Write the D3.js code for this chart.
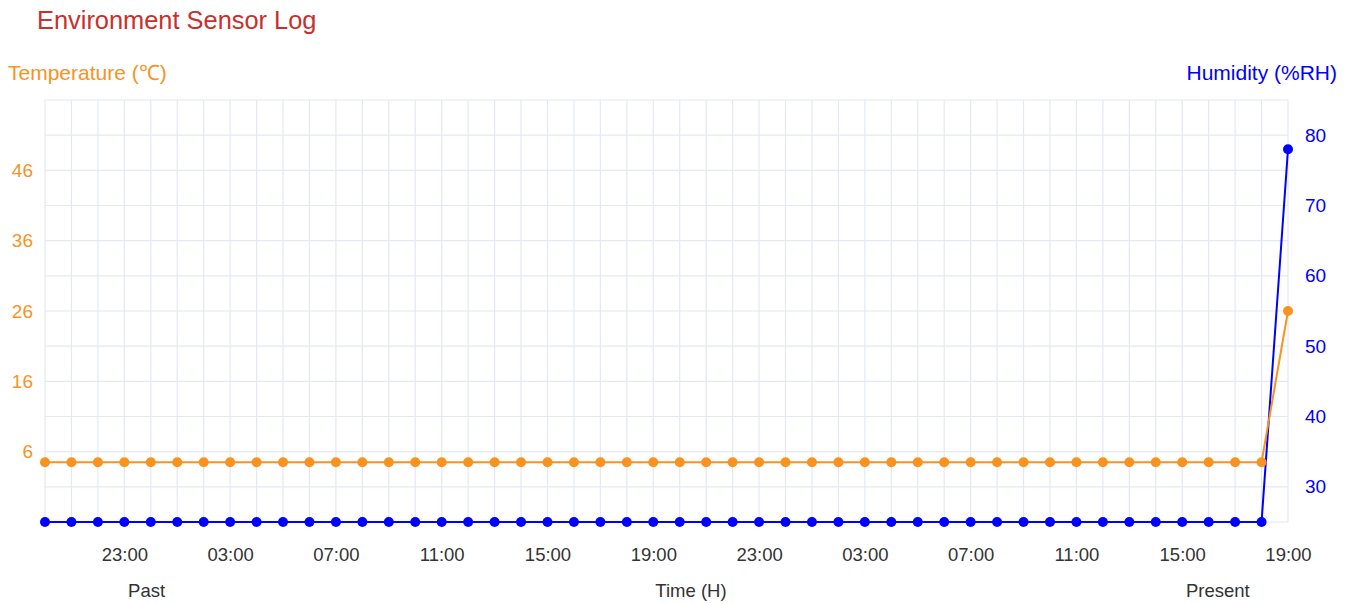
<!DOCTYPE html>
<html>
<head>
<meta charset="utf-8">
<script src="https://cdn.jsdelivr.net/npm/d3@7"></script>
<style>
  html, body { margin: 0; padding: 0; background: #ffffff; }
  svg { display: block; font-family: "Liberation Sans", Arial, sans-serif; }
</style>
</head>
<body>
<svg id="chart" width="1354" height="604"></svg>
<script>
// Hourly readings, oldest first
const hours = [
  "20:00","21:00","22:00","23:00","00:00","01:00","02:00","03:00",
  "04:00","05:00","06:00","07:00","08:00","09:00","10:00","11:00",
  "12:00","13:00","14:00","15:00","16:00","17:00","18:00","19:00",
  "20:00","21:00","22:00","23:00","00:00","01:00","02:00","03:00",
  "04:00","05:00","06:00","07:00","08:00","09:00","10:00","11:00",
  "12:00","13:00","14:00","15:00","16:00","17:00","18:00","19:00"
];
const temperature = [
  4.5,4.5,4.5,4.5,4.5,4.5,4.5,4.5,4.5,4.5,4.5,4.5,
  4.5,4.5,4.5,4.5,4.5,4.5,4.5,4.5,4.5,4.5,4.5,4.5,
  4.5,4.5,4.5,4.5,4.5,4.5,4.5,4.5,4.5,4.5,4.5,4.5,
  4.5,4.5,4.5,4.5,4.5,4.5,4.5,4.5,4.5,4.5,4.5,26
];
const humidity = [
  25,25,25,25,25,25,25,25,25,25,25,25,
  25,25,25,25,25,25,25,25,25,25,25,25,
  25,25,25,25,25,25,25,25,25,25,25,25,
  25,25,25,25,25,25,25,25,25,25,25,78
];
const tempTicks = [-4, 1, 6, 11, 16, 21, 26, 31, 36, 41, 46, 51, 56];
const tempLabels = [6, 16, 26, 36, 46];
const humTicks = [25, 30, 35, 40, 45, 50, 55, 60, 65, 70, 75, 80, 85];
const humLabels = [30, 40, 50, 60, 70, 80];
const xLabelHours = ["23:00", "03:00", "07:00", "11:00", "15:00", "19:00"];
const captions = ["Past", "Time (H)", "Present"];

const ORANGE = "#f7931e";
const BLUE = "#0000ff";
const GRID = "#e3e8f3";
const FONT = "Liberation Sans, Arial, sans-serif";

const svg = d3.select("#chart");
const plot = { left: 45, right: 1288, top: 100, bottom: 522 };

const idx = d3.range(hours.length);
const x = d3.scalePoint().domain(idx).range([plot.left, plot.right]).padding(0);
const yT = d3.scaleLinear().domain([-4, 56]).range([plot.bottom, plot.top]);
const yH = d3.scaleLinear().domain([25, 85]).range([plot.bottom, plot.top]);

// Grid: one vertical line per hour, one horizontal line per 5 units
const grid = svg.append("g").attr("stroke", GRID).attr("stroke-width", 1.2).attr("fill", "none");
grid.selectAll("line.v").data(idx).join("line")
  .attr("x1", d => x(d)).attr("x2", d => x(d))
  .attr("y1", plot.top).attr("y2", plot.bottom);
grid.selectAll("line.h").data(humTicks).join("line")
  .attr("x1", plot.left).attr("x2", plot.right)
  .attr("y1", d => yH(d)).attr("y2", d => yH(d));

// Left axis (temperature)
const leftAxis = d3.axisLeft(yT).tickValues(tempLabels).tickSize(0).tickPadding(12);
const gL = svg.append("g").attr("transform", `translate(${plot.left},0)`).call(leftAxis);
gL.select(".domain").remove();
gL.selectAll("text").attr("fill", ORANGE).attr("font-size", 19).attr("font-family", FONT);

// Right axis (humidity)
const rightAxis = d3.axisRight(yH).tickValues(humLabels).tickSize(0).tickPadding(17);
const gR = svg.append("g").attr("transform", `translate(${plot.right},0)`).call(rightAxis);
gR.select(".domain").remove();
gR.selectAll("text").attr("fill", BLUE).attr("font-size", 19).attr("font-family", FONT);

// Bottom axis (time), labelled every four hours
const labelIdx = idx.filter(i => i >= 3 && xLabelHours.includes(hours[i]));
const bottomAxis = d3.axisBottom(x).tickValues(labelIdx).tickFormat(i => hours[i]).tickSize(0).tickPadding(26);
const gB = svg.append("g").attr("transform", `translate(0,${plot.bottom})`).call(bottomAxis);
gB.select(".domain").remove();
gB.selectAll("text").attr("fill", "#333").attr("font-size", 18.5).attr("font-family", FONT);

// Series
const lineT = d3.line().x((d, i) => x(i)).y(d => yT(d));
const lineH = d3.line().x((d, i) => x(i)).y(d => yH(d));

svg.append("path").datum(humidity).attr("d", lineH)
  .attr("fill", "none").attr("stroke", BLUE).attr("stroke-width", 2);
svg.append("g").selectAll("circle").data(humidity).join("circle")
  .attr("cx", (d, i) => x(i)).attr("cy", d => yH(d)).attr("r", 5).attr("fill", BLUE);

svg.append("path").datum(temperature).attr("d", lineT)
  .attr("fill", "none").attr("stroke", ORANGE).attr("stroke-width", 2);
svg.append("g").selectAll("circle").data(temperature).join("circle")
  .attr("cx", (d, i) => x(i)).attr("cy", d => yT(d)).attr("r", 5).attr("fill", ORANGE);

// Titles
svg.append("text").attr("x", 37).attr("y", 29).attr("fill", "#c9302c")
  .attr("font-size", 25.4).text("Environment Sensor Log");
svg.append("text").attr("x", 8).attr("y", 80).attr("fill", ORANGE)
  .attr("font-size", 21).text("Temperature (℃)");
svg.append("text").attr("x", 1337).attr("y", 80).attr("fill", BLUE)
  .attr("font-size", 21).attr("text-anchor", "end").text("Humidity (%RH)");

// Captions under the time axis: start, middle and end of the range
const capX = [
  (x(3) + x(4)) / 2 + 9,
  (x(24) + x(25)) / 2 - 2,
  (x(44) + x(45)) / 2 - 4
];
svg.append("g").selectAll("text").data(captions).join("text")
  .attr("x", (d, i) => capX[i])
  .attr("y", 597).attr("text-anchor", "middle").attr("fill", "#333")
  .attr("font-size", 18.5).attr("font-family", FONT).text(d => d);
</script>
</body>
</html>
